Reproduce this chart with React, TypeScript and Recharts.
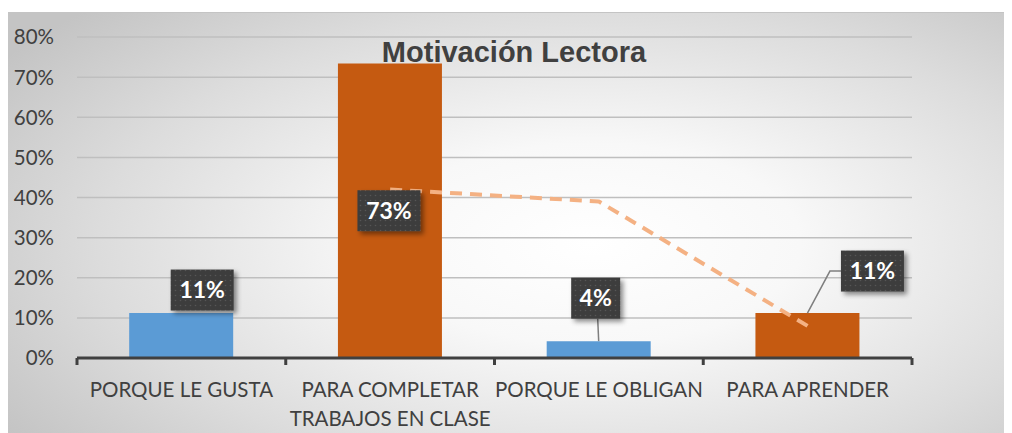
import React from "react";
import {
  ComposedChart,
  Bar,
  Line,
  Cell,
  XAxis,
  YAxis,
  CartesianGrid,
  LabelList,
} from "recharts";

const categories = [
  "PORQUE LE GUSTA",
  "PARA COMPLETAR TRABAJOS EN CLASE",
  "PORQUE LE OBLIGAN",
  "PARA APRENDER",
];
const values = [0.112, 0.734, 0.042, 0.112];
const valueLabels = ["11%", "73%", "4%", "11%"];
// moving average trend line
const trendValues = [null, 0.42, 0.39, 0.08];
const yTicks = [0, 0.1, 0.2, 0.3, 0.4, 0.5, 0.6, 0.7, 0.8];

const data = categories.map((name, i) => ({
  name,
  value: values[i],
  label: valueLabels[i],
  trend: trendValues[i],
}));

const barColors = ["#5B9BD5", "#C55A11", "#5B9BD5", "#C55A11"];

const wrap = (text: string, max = 18) => {
  const lines: string[] = [];
  let cur = "";
  text.split(" ").forEach((w) => {
    const next = cur ? cur + " " + w : w;
    if (next.length > max && cur) {
      lines.push(cur);
      cur = w;
    } else cur = next;
  });
  if (cur) lines.push(cur);
  return lines;
};

const XTick = (props: any) => {
  const { x, y, payload, index, width, visibleTicksCount } = props;
  const band = width / visibleTicksCount;
  const lines = wrap(payload.value);
  const last = index === visibleTicksCount - 1;
  return (
    <g>
      <line x1={x - band / 2} x2={x - band / 2} y1={y} y2={y + 7} stroke="#404040" strokeWidth={3} />
      {last && (
        <line x1={x + band / 2} x2={x + band / 2} y1={y} y2={y + 7} stroke="#404040" strokeWidth={3} />
      )}
      {lines.map((l, i) => (
        <text
          key={i}
          x={x}
          y={y + 39 + i * 29}
          textAnchor="middle"
          fill="#404040"
          fontFamily="Lato, sans-serif"
          fontSize={20.5}
        >
          {l}
        </text>
      ))}
    </g>
  );
};

const YTick = (props: any) => {
  const { x, y, payload } = props;
  return (
    <text
      x={x - 23}
      y={y}
      dy="0.36em"
      textAnchor="end"
      fill="#404040"
      fontFamily="Lato, sans-serif"
      fontSize={20.5}
    >
      {Math.round(payload.value * 100) + "%"}
    </text>
  );
};

// where each callout sits, relative to its bar
const placement = [
  { dx: 21, dy: -23, inside: false, leader: "none" },
  { dx: -1, dy: 0, inside: true, leader: "none" },
  { dx: -3, dy: -43, inside: false, leader: "down" },
  { dx: 65, dy: -42, inside: false, leader: "elbow" },
];

const Callout = (props: any) => {
  const { x, y, width, height, value, index } = props;
  const p = placement[index];
  const cx = x + width / 2;
  const cy = p.inside ? y + height / 2 + p.dy : y + p.dy;
  const bx = cx + p.dx;
  const text = String(value);
  const bw = text.length > 2 ? 63 : 49;
  const bh = 41;
  const left = bx - bw / 2;
  const top = cy - bh / 2;
  const pid = `dots-${index}`;
  const fid = `shadow-${index}`;
  return (
    <g>
      <defs>
        <pattern id={pid} width={5} height={5} patternUnits="userSpaceOnUse">
          <rect width={5} height={5} fill="#3c3c3c" />
          <circle cx={2.5} cy={2.5} r={0.8} fill="#565656" />
        </pattern>
        <filter id={fid} x="-30%" y="-30%" width="160%" height="160%">
          <feDropShadow dx={3} dy={3} stdDeviation={2.5} floodColor="#000" floodOpacity={0.45} />
        </filter>
      </defs>
      {p.leader === "down" && (
        <line x1={cx - 1} y1={top + bh} x2={cx} y2={y} stroke="#7f7f7f" strokeWidth={1.5} />
      )}
      {p.leader === "elbow" && (
        <polyline
          points={`${left},${cy} ${left - 11},${cy} ${cx},${y}`}
          fill="none"
          stroke="#7f7f7f"
          strokeWidth={1.5}
        />
      )}
      <rect x={left} y={top} width={bw} height={bh} fill={`url(#${pid})`} filter={`url(#${fid})`} />
      <text
        x={bx}
        y={cy}
        dy="0.36em"
        textAnchor="middle"
        fill="#ffffff"
        fontFamily="Lato, sans-serif"
        fontWeight={700}
        fontSize={23}
      >
        {text}
      </text>
    </g>
  );
};

export default function App() {
  return (
    <div
      style={{
        position: "relative",
        width: 1004,
        height: 421,
        marginTop: 4,
        borderTop: "1px solid #c4c4c4",
        boxSizing: "border-box",
        background:
          "radial-gradient(ellipse 70% 80% at 58% 55%, #ffffff 0%, #f8f8f8 30%, #dcdcdc 70%, #c4c4c4 100%)",
      }}
    >
      <ComposedChart
        width={1004}
        height={420}
        data={data}
        margin={{ top: 24, right: 100, left: 0, bottom: 0 }}
        barCategoryGap="25%"
      >
        <CartesianGrid vertical={false} stroke="#bfbfbf" strokeWidth={1.5} />
        <XAxis
          dataKey="name"
          interval={0}
          height={75}
          axisLine={{ stroke: "#404040", strokeWidth: 3 }}
          tickLine={false}
          tickSize={0}
          tickMargin={0}
          tick={<XTick />}
        />
        <YAxis
          domain={[0, 0.8]}
          ticks={yTicks}
          width={69}
          axisLine={false}
          tickLine={false}
          tickSize={0}
          tickMargin={0}
          tick={<YTick />}
        />
        <Bar dataKey="value" isAnimationActive={false}>
          {data.map((d, i) => (
            <Cell key={d.name} fill={barColors[i]} />
          ))}
          <LabelList dataKey="label" content={<Callout />} />
        </Bar>
        <Line
          dataKey="trend"
          type="linear"
          stroke="#F4B183"
          strokeWidth={4}
          strokeDasharray="12 8"
          strokeLinejoin="round"
          dot={false}
          activeDot={false}
          isAnimationActive={false}
        />
      </ComposedChart>
      <div
        style={{
          position: "absolute",
          left: 0,
          width: 1012,
          top: 22,
          textAlign: "center",
          fontFamily: "'Liberation Sans', Arial, sans-serif",
          fontWeight: 700,
          fontSize: 29,
          color: "#404040",
          lineHeight: "34px",
          pointerEvents: "none",
        }}
      >
        Motivación Lectora
      </div>
    </div>
  );
}
